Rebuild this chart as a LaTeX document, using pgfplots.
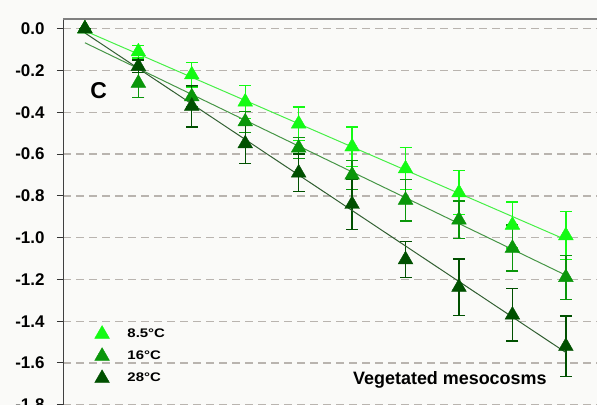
\documentclass[border=0pt]{standalone}
\usepackage{fontspec}
\setmainfont{Liberation Sans}
\newfontfamily\legfont[FakeStretch=1.2]{Liberation Sans}
\usepackage{pgfplots}
\pgfplotsset{compat=1.18}
\definecolor{cA}{RGB}{20,250,20}
\definecolor{cB}{RGB}{10,150,10}
\definecolor{cC}{RGB}{0,80,0}
\definecolor{lA}{RGB}{70,240,70}
\definecolor{lB}{RGB}{70,150,70}
\definecolor{lC}{RGB}{50,95,50}
\definecolor{gridc}{RGB}{185,180,175}
\definecolor{bgc}{RGB}{250,250,248}
\pgfplotstableread{
x y e
0 0 0
1 -0.11 0.03
2 -0.22 0.06
3 -0.35 0.08
4 -0.455 0.08
5 -0.565 0.095
6 -0.67 0.10
7 -0.785 0.105
8 -0.94 0.11
9 -0.99 0.115
}\dA
\pgfplotstableread{
x y e
0 0 0
1 -0.26 0.07
2 -0.325 0.05
3 -0.445 0.05
4 -0.57 0.05
5 -0.70 0.07
6 -0.82 0.10
7 -0.915 0.09
8 -1.05 0.11
9 -1.19 0.105
}\dB
\pgfplotstableread{
x y e
0 0 0
1 -0.18 0.03
2 -0.37 0.10
3 -0.55 0.095
4 -0.69 0.09
5 -0.84 0.12
6 -1.105 0.085
7 -1.237 0.135
8 -1.37 0.125
9 -1.52 0.145
}\dC
\begin{document}
\begin{tikzpicture}
\fill[bgc] (0,0) rectangle (597bp,405bp);
\begin{scope}
\clip (0,0) rectangle (597bp,405bp);
\begin{axis}[
  at={(63bp,0.25bp)}, anchor=south west,
  width=537.6bp, height=386bp, scale only axis,
  xmin=-0.41, xmax=9.65, ymin=-1.8, ymax=0.048,
  axis line style={draw=none},
  xtick=\empty,
  ytick={-1.8,-1.6,-1.4,-1.2,-1,-0.8,-0.6,-0.4,-0.2,0},
  yticklabel style={xshift=-9bp, /pgf/number format/.cd, fixed, fixed zerofill, precision=1, assume math mode=true},
  tick label style={font=\bfseries\fontsize{17}{17}\selectfont},
  ytick pos=left, tick align=outside, major tick length=6bp,
  tick style={black!80, line width=1bp},
  ymajorgrids, grid style={gridc, dash pattern=on 8bp off 5bp, line width=1.3bp},
  legend style={at={(axis cs:0.18,-1.42)}, anchor=north west, draw=none, fill=none,
    font=\legfont\bfseries\fontsize{12.5}{12.5}\selectfont, row sep=7.5bp, column sep=17bp, inner sep=0pt,
    nodes={inner sep=1bp}},
  legend cell align=left,
  legend image code/.code={\draw[#1] plot coordinates {(8bp,0bp)};},
]
\addplot[only marks, mark=triangle*, mark size=8.5bp, color=cA,
  error bars/.cd, y dir=both, y explicit,
  error bar style={line width=1.3bp, cA},
  error mark options={rotate=90, mark size=6bp, line width=1.3bp, cA}]
  table[x=x, y=y, y error=e] {\dA};
\addplot[only marks, mark=triangle*, mark size=8.5bp, color=cB,
  error bars/.cd, y dir=both, y explicit,
  error bar style={line width=1.3bp, cB},
  error mark options={rotate=90, mark size=6bp, line width=1.3bp, cB}]
  table[x=x, y=y, y error=e] {\dB};
\addplot[only marks, mark=triangle*, mark size=8.5bp, color=cC,
  error bars/.cd, y dir=both, y explicit,
  error bar style={line width=1.3bp, cC},
  error mark options={rotate=90, mark size=6bp, line width=1.3bp, cC}]
  table[x=x, y=y, y error=e] {\dC};
\legend{8.5°C, 16°C, 28°C}
\addplot[forget plot, lA, line width=1bp] coordinates {(0,-0.01) (9,-1.01)};
\addplot[forget plot, lB, line width=1bp] coordinates {(0,-0.067) (9,-1.18)};
\addplot[forget plot, lC, line width=1bp] coordinates {(0,-0.02) (9,-1.55)};
\draw[black!75, line width=1.2bp] (rel axis cs:0,0) -- (rel axis cs:0,1);
\draw[black!50, line width=1.8bp] (rel axis cs:0,1) -- (rel axis cs:1,1);
\node[anchor=base, font=\bfseries\fontsize{23}{23}\selectfont] at (axis cs:0.256,-0.335) {C};
\node[anchor=base, font=\bfseries\fontsize{18}{18}\selectfont] at (axis cs:6.83,-1.704) {Vegetated mesocosms};
\end{axis}
\end{scope}
\pgfresetboundingbox
\path (0,0) rectangle (597bp,405bp);
\end{tikzpicture}
\end{document}
